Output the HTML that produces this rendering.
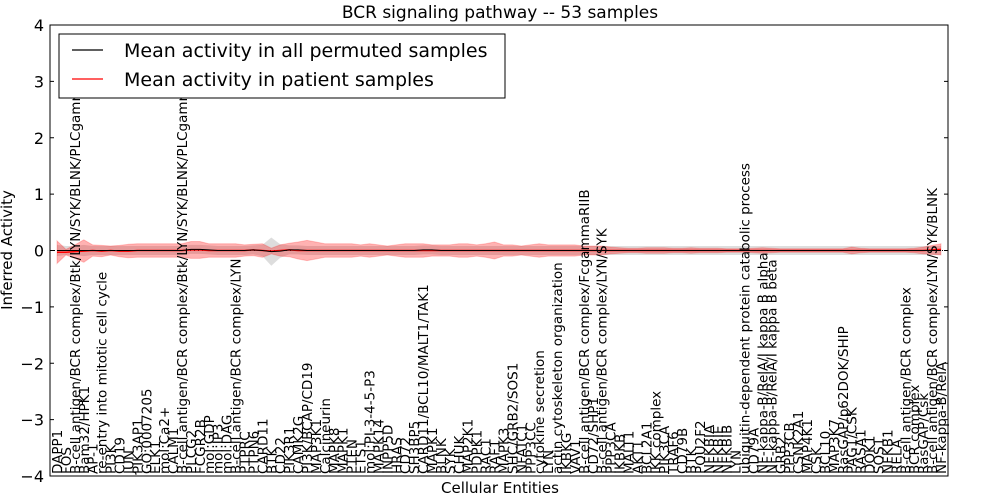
<!DOCTYPE html>
<html><head><meta charset="utf-8"><style>
html,body{margin:0;padding:0;background:#fff}
svg{display:block;font-family:"DejaVu Sans","Liberation Sans",sans-serif}
</style></head><body>
<svg id="chart" width="1000" height="500" viewBox="0 0 1000 500" xmlns="http://www.w3.org/2000/svg">
<rect x="0" y="0" width="1000" height="500" fill="#fff"/>
<g id="bands"></g>
<g id="lines"></g>
<g id="yaxis"></g>
<g id="xlabels"></g>
<text x="500" y="18" text-anchor="middle" font-size="17">BCR signaling pathway -- 53 samples</text>
<rect x="50" y="25" width="898" height="451" fill="none" stroke="#000" stroke-width="1"/>
<text x="12" y="250" transform="rotate(-90 12 250)" text-anchor="middle" font-size="15">Inferred Activity</text>
<text x="500" y="493" text-anchor="middle" font-size="15">Cellular Entities</text>
<g>
<rect x="59" y="34" width="446" height="64" fill="#fff" stroke="#000" stroke-width="1"/>
<line x1="72" y1="50" x2="103" y2="50" stroke="#000" stroke-width="1.2"/>
<text x="124" y="57" font-size="19">Mean activity in all permuted samples</text>
<line x1="72" y1="79" x2="103" y2="79" stroke="#f00" stroke-width="1.2"/>
<text x="124" y="86" font-size="19">Mean activity in patient samples</text>
</g>
</svg>
<script>
const labels = ["DAPP1","FOS","B-cell antigen/BCR complex/Btk/LYN/SYK/BLNK/PLCgamma2","Bam32/HPK1","AP-1","re-entry into mitotic cell cycle","PI3K","CD19","JUN","PIK3AP1","GO:0007205","ELK1","mol:Ca2+","CALM1","B-cell antigen/BCR complex/Btk/LYN/SYK/BLNK/PLCgamma","PLCG2","FCGR2B","mol:GDP","mol:IP3","mol:DAG","B-cell antigen/BCR complex/LYN","PTPRC","PTPN6","CARD11","BTK","CD22","PIK3R1","CAMK2G","PI3K/BCAP/CD19","MAP3K1","Calcineurin","MAPK8","MAPK1","PTEN","ETS1","mol:PI-3-4-5-P3","MAPK14","INPP5D","HRAS","CD72","SH3BP5","CARD11/BCL10/MALT1/TAK1","MAPK1","BLNK","SYK","CHUK","MAP2K1","PDPK1","RAC1","RAF1","MAPK3","SHC/GRB2/SOS1","NFATC1","PPP3CC","cytokine secretion","LYN","actin cytoskeleton organization","IKBKG","VAV1","B-cell antigen/BCR complex/FcgammaRIIB","CD72/SHP1","B-cell antigen/BCR complex/LYN/SYK","PPP3CA","IKBKB","MALT1","AKT1","BCL2A1","IKK complex","PIK3CA","TRAF6","CD79B","BTK","POU2F2","NFKBIA","NFKBIE","NFKBIB","LYN","ubiquitin-dependent protein catabolic process","CD79A","NF-kappa-B/RelA/I kappa B alpha","NF-kappa-B/RelA/I kappa B beta","GRB2","PPP3CB","CSNK2A1","MAP4K1","CSK","BCL10","MAP3K7","RasGAP/p62DOK/SHIP","PAG1/CSK","RASA1","DOK1","SOS1","NFKB1","RELA","B-cell antigen/BCR complex","BCR complex","RasGAP/Csk","B-cell antigen/BCR complex/LYN/SYK/BLNK","NF-kappa-B/RelA"];
const patientMean = [-0.03,-0.03,-0.02,-0.01,0.0,-0.01,0.0,-0.01,-0.01,0.0,0.0,0.0,0.0,0.0,0.0,0.01,0.01,0.0,0.0,0.0,0.0,0.0,0.01,0.0,-0.01,0.0,0.01,0.0,0.0,0.0,0.0,0.0,0.0,0.0,0.0,0.0,0.0,0.0,0.0,0.0,0.0,0.0,0.0,0.0,0.0,0.0,0.0,0.0,0.0,0.0,0.0,0.0,0.0,0.0,0.0,0.0,0.0,0.0,0.0,0.0,0.0,0.0,0.0,0.0,0.0,0.0,0.0,0.0,0.0,0.0,0.0,0.0,0.0,0.0,0.0,0.0,0.0,0.0,0.0,0.0,0.0,0.0,0.0,0.0,0.0,0.0,0.0,0.0,0.0,0.0,0.0,0.0,0.0,0.0,0.0,0.0,0.0,0.0,0.01,0.02];
const patientSpread = [0.2,0.05,0.12,0.2,0.1,0.1,0.08,0.1,0.12,0.12,0.12,0.12,0.12,0.12,0.12,0.15,0.15,0.12,0.12,0.12,0.12,0.1,0.1,0.12,0.05,0.1,0.12,0.15,0.18,0.15,0.12,0.12,0.12,0.12,0.1,0.12,0.1,0.08,0.1,0.12,0.12,0.12,0.1,0.1,0.1,0.12,0.12,0.1,0.12,0.15,0.1,0.1,0.08,0.1,0.12,0.1,0.1,0.1,0.1,0.08,0.08,0.08,0.06,0.05,0.04,0.04,0.05,0.05,0.05,0.04,0.04,0.05,0.04,0.04,0.04,0.03,0.03,0.03,0.04,0.05,0.04,0.03,0.03,0.03,0.03,0.03,0.03,0.03,0.03,0.06,0.04,0.03,0.03,0.03,0.03,0.03,0.04,0.06,0.08,0.1];
const permMean = [0.0,0.0,0.0,0.0,0.0,0.0,0.0,0.0,0.0,0.0,0.0,0.0,0.0,0.0,0.0,0.02,0.02,0.01,0.0,0.0,0.0,0.0,0.01,0.0,-0.02,-0.01,0.01,0.01,0.0,0.0,0.0,0.0,0.0,0.0,0.0,0.0,0.0,0.0,0.0,0.0,0.0,0.01,0.01,0.0,0.0,0.0,0.0,0.0,0.0,0.0,0.0,0.0,0.0,0.0,0.0,0.0,0.0,0.0,0.0,0.0,0.0,0.0,0.0,0.0,0.0,0.0,0.0,0.0,0.0,0.0,0.0,0.0,0.0,0.0,0.0,0.0,0.0,0.0,0.0,0.0,0.0,0.0,0.0,0.0,0.0,0.0,0.0,0.0,0.0,0.0,0.0,0.0,0.0,0.0,0.0,0.0,0.0,0.0,0.0,0.0];
const permSpread = [0.1,0.08,0.08,0.1,0.08,0.08,0.08,0.08,0.08,0.08,0.08,0.08,0.08,0.08,0.08,0.08,0.08,0.08,0.08,0.08,0.08,0.08,0.08,0.1,0.25,0.12,0.08,0.08,0.08,0.08,0.08,0.08,0.08,0.08,0.08,0.08,0.08,0.08,0.08,0.08,0.08,0.08,0.08,0.08,0.08,0.08,0.08,0.08,0.08,0.08,0.08,0.08,0.08,0.08,0.08,0.08,0.08,0.08,0.08,0.08,0.08,0.08,0.08,0.08,0.08,0.08,0.08,0.08,0.08,0.08,0.08,0.08,0.08,0.08,0.08,0.08,0.08,0.08,0.08,0.08,0.08,0.08,0.08,0.08,0.08,0.08,0.08,0.08,0.08,0.08,0.08,0.08,0.08,0.08,0.08,0.08,0.08,0.08,0.08,0.08];
const yTicks = [4,3,2,1,0,-1,-2,-3,-4];

const NS="http://www.w3.org/2000/svg";
const X0=57, X1=941, YT=25, YB=476, YMAX=4, YMIN=-4;
function xs(i){return X0 + i*(X1-X0)/(labels.length-1);}
function ys(v){return YT + (YMAX-v)/(YMAX-YMIN)*(YB-YT);}
function mk(tag,attrs,parent){const e=document.createElementNS(NS,tag);for(const k in attrs)e.setAttribute(k,attrs[k]);parent.appendChild(e);return e;}

const bands=document.getElementById('bands'), lines=document.getElementById('lines');
function bandPath(mean,spread){
  let up=[],dn=[];
  for(let i=0;i<labels.length;i++){up.push(xs(i).toFixed(1)+','+ys(mean[i]+spread[i]).toFixed(1));dn.push(xs(i).toFixed(1)+','+ys(mean[i]-spread[i]).toFixed(1));}
  return 'M'+up.join('L')+'L'+dn.reverse().join('L')+'Z';
}
function linePath(mean){let p=[];for(let i=0;i<labels.length;i++)p.push(xs(i).toFixed(1)+','+ys(mean[i]).toFixed(1));return 'M'+p.join('L');}

const gb=mk('path',{d:bandPath(permMean,permSpread),fill:'#bbb','fill-opacity':'0.5',stroke:'none'},bands);


const rb=mk('path',{d:bandPath(patientMean,patientSpread),fill:'#f00','fill-opacity':'0.3',stroke:'#f00','stroke-opacity':'0.2','stroke-width':1},bands);


const zl=mk('line',{x1:50,x2:948,y1:ys(0),y2:ys(0),stroke:'#000','stroke-width':1,'stroke-dasharray':'1,3'},lines);


const rl=mk('path',{d:linePath(patientMean),fill:'none',stroke:'#f00','stroke-width':1.5},lines);


const bl=mk('path',{d:linePath(permMean),fill:'none',stroke:'#000','stroke-width':1},lines);



const ya=document.getElementById('yaxis');
yTicks.forEach(v=>{
  const y=ys(v);
  const t1=mk('line',{x1:50,x2:54,y1:y,y2:y,stroke:'#000'},ya);
  
  
  const t2=mk('line',{x1:944,x2:948,y1:y,y2:y,stroke:'#000'},ya);
  
  
  const tx=mk('text',{x:44,y:y+6,'text-anchor':'end','font-size':16},ya);
  tx.textContent=(v<0?'\u2212'+(-v):String(v));
  
  
});

const xl=document.getElementById('xlabels');
labels.forEach((s,i)=>{
  const x=xs(i)+5, y=474;
  const t=mk('text',{x:x,y:y,transform:'rotate(-90 '+x.toFixed(1)+' '+y+')','font-size':13.5},xl);
  t.textContent=s;
  
  
});
</script>
</body></html>
